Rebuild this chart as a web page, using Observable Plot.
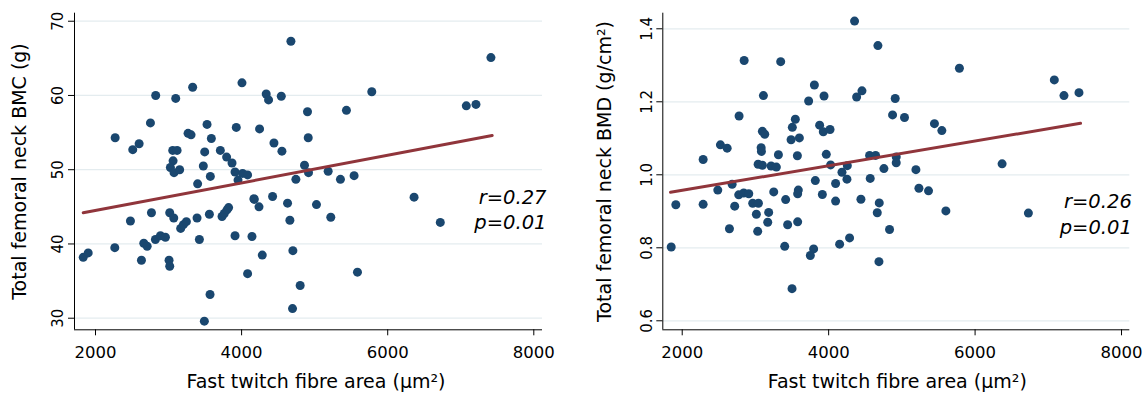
<!DOCTYPE html>
<html>
<head>
<meta charset="utf-8">
<script src="https://cdn.jsdelivr.net/npm/d3@7"></script>
<script src="https://cdn.jsdelivr.net/npm/@observablehq/plot@0.6"></script>
<style>
  html, body { margin: 0; padding: 0; background: #fff; }
  #row { display: flex; flex-direction: row; width: 1146px; height: 398px; }
  #row svg { display: block; }
</style>
</head>
<body>
<div id="row"></div>
<script>
// ---------- data ----------
const bmcArea = [2269,2510,2597,2752,2824,3098,3330,3057,3117,3062,3025,3075,3152,3267,3308,3527,3586,3495,3476,3572,3398,3709,3795,3869,3910,3951,4014,4082,4005,3927,4246,4337,4369,4543,4443,4552,4675,4743,4169,4424,4902,5435,5782,4912,4861,4916,5185,5353,5540,7076,7208,7413,6361,1832,1900,2264,2478,2629,2661,2707,2766,2820,2889,2957,3007,3016,3016,3071,3166,3203,3244,3390,3422,3559,3568,3490,3732,3763,3800,3822,3910,4082,4142,4173,4238,4283,4629,4661,4702,4697,4802,5025,5221,6720,5586];
const bmcValue = [54.3,52.7,53.5,56.3,60.0,59.6,61.1,52.6,52.6,51.2,50.3,49.6,50.0,54.9,54.7,56.1,54.2,52.4,50.5,49.1,48.1,52.6,51.7,50.9,49.7,48.6,49.5,49.3,61.7,55.7,55.5,60.2,59.4,59.9,53.6,52.5,67.3,48.7,46.1,46.4,57.8,58.0,60.5,54.3,50.6,49.6,49.8,48.7,49.2,58.6,58.8,65.1,46.3,38.2,38.8,39.5,43.1,37.8,40.1,39.7,44.2,40.6,41.1,40.9,37.8,37.0,44.2,43.5,42.1,42.6,43.0,43.5,40.6,44.0,33.2,29.6,43.7,44.1,44.6,44.9,41.1,36.0,41.0,46.0,45.0,38.5,45.5,43.2,39.1,31.3,34.4,45.3,43.6,42.9,36.2];

const bmdArea = [2286,2522,2614,2777,2846,3345,3109,3095,3127,3078,3082,3037,3095,3214,3286,3314,2682,2486,2772,2840,2909,3250,3545,3504,3487,3600,3573,3727,3805,3937,3877,3927,4019,3968,4027,4182,4255,4250,3818,4095,3914,3586,4354,4382,4455,4559,4641,4568,4673,4909,4873,5036,5445,5546,5786,7082,7214,7419,4923,4923,4755,5192,6369,5233,5364,1850,1913,2286,2645,2717,2963,3041,3013,3181,3168,3031,3413,3440,3400,3577,3577,3795,3750,3500,4095,4150,4286,4441,4664,4687,4691,4832,5601,6728];
const bmdValue = [1.042,1.082,1.073,1.161,1.313,1.310,1.217,1.119,1.111,1.074,1.064,1.029,1.026,1.024,1.021,1.055,0.974,0.958,0.945,0.950,0.948,0.953,1.152,1.130,1.096,1.101,1.052,1.202,1.246,1.216,1.136,1.118,1.124,1.056,1.027,1.007,1.025,0.988,0.984,0.976,0.946,0.958,1.421,1.213,1.230,1.053,1.053,0.990,1.354,1.209,1.164,1.157,1.140,1.121,1.292,1.260,1.217,1.225,1.049,1.033,1.017,1.014,1.030,0.963,0.956,0.802,0.918,0.919,0.852,0.914,0.922,0.922,0.892,0.897,0.870,0.845,0.932,0.863,0.804,0.871,0.948,0.797,0.779,0.688,0.928,0.810,0.827,0.933,0.896,0.762,0.923,0.850,0.901,0.895];

// fitted regression lines (end points)
const bmcFitArea = [1832, 7430];
const bmcFitValue = [44.2, 54.6];
const bmdFitArea = [1840, 7440];
const bmdFitValue = [0.952, 1.141];

const xTicks = [2000, 4000, 6000, 8000];
const bmcTicks = [30, 40, 50, 60, 70];
const bmdTicks = [0.6, 0.8, 1.0, 1.2, 1.4];

const xTitle = "Fast twitch fibre area (µm²)";
const bmcTitle = "Total femoral neck BMC (g)";
const bmdTitle = "Total femoral neck BMD (g/cm²)";
const bmcStats = ["r=0.27", "p=0.01"];
const bmdStats = ["r=0.26", "p=0.01"];

// ---------- styling ----------
const FONT = "DejaVu Sans, Liberation Sans, Arial, sans-serif";
const DOT = "#1a476f";
const FIT = "#90353b";
const GRID = "#e4ecef";

function panel(o) {
  const pts = o.xs.map((x, i) => ({x, y: o.ys[i]}));
  const fit = o.fx.map((x, i) => ({x, y: o.fy[i]}));
  return Plot.plot({
    width: 573,
    height: 398,
    marginLeft: o.ml,
    marginRight: o.mr,
    marginTop: 12.7,
    marginBottom: 68.7,
    style: {fontFamily: FONT, color: "#000", background: "#fff"},
    x: {domain: o.xd, ticks: xTicks},
    y: {domain: o.yd, ticks: o.yt},
    marks: [
      Plot.gridY(o.yt, {stroke: GRID, strokeOpacity: 1, strokeWidth: 1.2}),
      Plot.ruleX([o.xd[0]], {stroke: "#000", strokeWidth: 1}),
      Plot.ruleY([o.yd[0]], {stroke: "#000", strokeWidth: 1}),
      Plot.axisX(xTicks, {tickSize: 6, tickPadding: 10, fontSize: 16.5, label: null, tickFormat: d3.format("d")}),
      Plot.axisY(o.yt, {tickSize: 6, tickPadding: o.tp, tickRotate: -90, fontSize: 15, label: null, tickFormat: o.fmt}),
      Plot.dot(pts, {x: "x", y: "y", r: 4.5, fill: DOT, stroke: null}),
      Plot.line(fit, {x: "x", y: "y", stroke: FIT, strokeWidth: 3}),
      Plot.text([xTitle], {text: d => d, frameAnchor: "bottom", textAnchor: "middle", dx: o.tdx, dy: 52.4, fontSize: 19, lineAnchor: "middle"}),
      Plot.text([o.title], {text: d => d, frameAnchor: "left", textAnchor: "middle", rotate: -90, dx: o.ydx, fontSize: 19, lineAnchor: "middle"}),
      Plot.text([o.stats[0]], {text: d => d, frameAnchor: "right", textAnchor: "end", dx: o.sdx, dy: o.sdy[0], fontSize: 19.5, fontStyle: "italic", lineAnchor: "middle"}),
      Plot.text([o.stats[1]], {text: d => d, frameAnchor: "right", textAnchor: "end", dx: o.sdx, dy: o.sdy[1], fontSize: 19.5, fontStyle: "italic", lineAnchor: "middle"})
    ]
  });
}

const row = document.getElementById("row");
row.appendChild(panel({
  xs: bmcArea, ys: bmcValue, fx: bmcFitArea, fy: bmcFitValue,
  ml: 74, mr: 31, xd: [1712.5, 8119], yd: [28.44, 71.08], yt: bmcTicks,
  fmt: d3.format("d"), tp: 6, title: bmcTitle, stats: bmcStats,
  tdx: 7.5, ydx: -54.8, sdx: 4, sdy: [26.5, 51.5]
}));
row.appendChild(panel({
  xs: bmdArea, ys: bmdValue, fx: bmdFitArea, fy: bmdFitValue,
  ml: 89.3, mr: 16.7, xd: [1735, 8113], yd: [0.5753, 1.4427], yt: bmdTicks,
  fmt: d3.format(".1f"), tp: 5, title: bmdTitle, stats: bmdStats,
  tdx: 1, ydx: -58.1, sdx: 2, sdy: [30, 56]
}));
</script>
</body>
</html>
